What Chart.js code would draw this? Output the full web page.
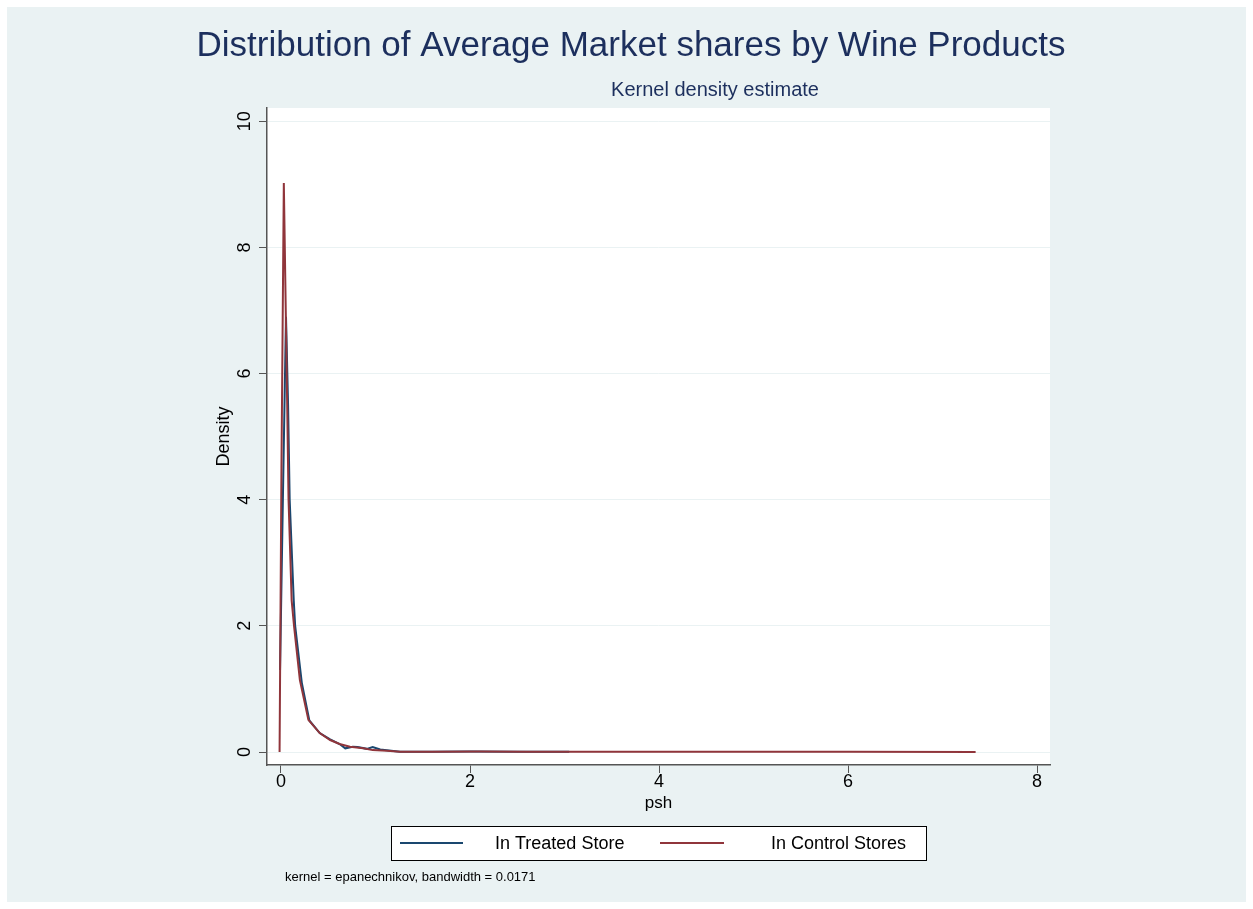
<!DOCTYPE html>
<html>
<head>
<meta charset="utf-8">
<title>Distribution of Average Market shares by Wine Products</title>
<script src="https://cdn.jsdelivr.net/npm/chart.js@4.4.1/dist/chart.umd.min.js"></script>
<style>
  html, body { margin: 0; padding: 0; background: #fff; }
  #wrap { width: 1253px; height: 909px; }
</style>
</head>
<body>
<div id="wrap"><canvas id="grafico" width="1253" height="909"></canvas></div>
<script>
// estimativas de densidade (psh x densidade)
const tratadaX = [-0.01, 0.02, 0.053, 0.075, 0.092, 0.135, 0.15, 0.22, 0.30, 0.41, 0.52, 0.62, 0.68, 0.76, 0.81, 0.91, 0.97, 1.05, 1.19, 1.26, 1.6, 2.0, 2.5, 3.05];
const tratadaY = [1.3, 4.0, 6.9, 5.5, 4.0, 2.4, 2.0, 1.1, 0.5, 0.3, 0.2, 0.127, 0.058, 0.084, 0.08, 0.05, 0.08, 0.04, 0.015, 0.003, 0.006, 0.008, 0.004, 0.004];

const controleX = [-0.015, 0.005, 0.03, 0.065, 0.08, 0.113, 0.138, 0.20, 0.29, 0.41, 0.52, 0.62, 0.73, 0.87, 0.97, 1.12, 1.26, 1.6, 2.1, 2.6, 3.2, 4.0, 5.0, 6.0, 7.35];
const controleY = [0, 4.5, 9.02, 5.58, 4.0, 2.4, 2.0, 1.14, 0.51, 0.30, 0.19, 0.127, 0.084, 0.058, 0.03, 0.02, 0.005, 0.006, 0.008, 0.004, 0.006, 0.003, 0.004, 0.003, 0.002];

const ticksX = [0, 2, 4, 6, 8];
const ticksY = [0, 2, 4, 6, 8, 10];

const titulo = "Distribution of Average Market shares by Wine Products";
const subtitulo = "Kernel density estimate";
const nota = "kernel = epanechnikov, bandwidth = 0.0171";

const azul = "#1a476f";
const vinho = "#90353b";
const fundoCinza = "#eaf2f3";
const corTitulo = "#1c2f5d";
const fonte = "'Liberation Sans', Arial, Helvetica, sans-serif";

function pares(xs, ys) {
  return xs.map((x, i) => ({ x: x, y: ys[i] }));
}

// fundo, titulos, legenda e nota
const molduraPlugin = {
  id: "moldura",
  beforeDraw(chart) {
    const { ctx, chartArea } = chart;
    ctx.save();
    ctx.fillStyle = "#fff";
    ctx.fillRect(0, 0, chart.width, chart.height);
    ctx.fillStyle = fundoCinza;
    ctx.fillRect(7, 7, chart.width - 14, chart.height - 14);
    ctx.fillStyle = "#fff";
    ctx.fillRect(chartArea.left, chartArea.top, chartArea.right - chartArea.left, chartArea.bottom - chartArea.top);
    ctx.restore();
  },
  afterDraw(chart) {
    const ctx = chart.ctx;
    ctx.save();
    ctx.textBaseline = "middle";

    ctx.fillStyle = corTitulo;
    ctx.textAlign = "center";
    ctx.font = "35px " + fonte;
    ctx.fillText(titulo, 631, 46);
    ctx.font = "20px " + fonte;
    ctx.fillText(subtitulo, 715, 90);

    // caixa da legenda
    ctx.fillStyle = "#fff";
    ctx.fillRect(391, 826, 535, 34);
    ctx.strokeStyle = "#000";
    ctx.lineWidth = 1;
    ctx.strokeRect(391.5, 826.5, 535, 34);

    const itens = [
      { x1: 400, x2: 463, tx: 495 },
      { x1: 660, x2: 724, tx: 771 },
    ];
    chart.data.datasets.forEach((ds, i) => {
      const it = itens[i];
      ctx.strokeStyle = ds.borderColor;
      ctx.lineWidth = 2;
      ctx.beginPath();
      ctx.moveTo(it.x1, 843);
      ctx.lineTo(it.x2, 843);
      ctx.stroke();
      ctx.fillStyle = "#000";
      ctx.textAlign = "left";
      ctx.font = "18px " + fonte;
      ctx.fillText(ds.label, it.tx, 844);
    });

    ctx.font = "13px " + fonte;
    ctx.fillStyle = "#000";
    ctx.textAlign = "left";
    ctx.fillText(nota, 285, 877);
    ctx.restore();
  },
};

Chart.defaults.font.family = fonte;
Chart.defaults.color = "#000";

new Chart(document.getElementById("grafico").getContext("2d"), {
  type: "scatter",
  data: {
    datasets: [
      {
        label: "In Treated Store",
        data: pares(tratadaX, tratadaY),
        borderColor: azul,
        backgroundColor: azul,
        order: 1,
      },
      {
        label: "In Control Stores",
        data: pares(controleX, controleY),
        borderColor: vinho,
        backgroundColor: vinho,
        order: 0,
      },
    ],
  },
  options: {
    responsive: false,
    devicePixelRatio: 1,
    animation: false,
    showLine: true,
    elements: {
      point: { radius: 0 },
      line: { borderWidth: 2, tension: 0 },
    },
    layout: { padding: { left: 210, top: 108, right: 203, bottom: 95 } },
    plugins: {
      legend: { display: false },
      tooltip: { enabled: false },
    },
    scales: {
      x: {
        type: "linear",
        min: -0.148,
        max: 8.137,
        afterBuildTicks: (s) => { s.ticks = ticksX.map((v) => ({ value: v })); },
        afterFit: (s) => { s.height = 49; },
        ticks: { maxRotation: 0, padding: -2, font: { size: 18 }, color: "#000" },
        grid: { drawOnChartArea: false, tickColor: "#555", tickLength: 8 },
        border: { color: "#555", width: 1.5 },
        title: { display: true, text: "psh", font: { size: 17 }, color: "#000", padding: { top: 0, bottom: 0 } },
      },
      y: {
        type: "linear",
        min: -0.206,
        max: 10.21,
        afterBuildTicks: (s) => { s.ticks = ticksY.map((v) => ({ value: v })); },
        afterFit: (s) => { s.width = 57; },
        ticks: { minRotation: 90, maxRotation: 90, crossAlign: "center", padding: 4, font: { size: 18 }, color: "#000" },
        grid: { color: fundoCinza, tickColor: "#555", tickLength: 8 },
        border: { color: "#555", width: 1.5 },
        title: { display: true, text: "Density", font: { size: 18 }, color: "#000", padding: { top: 3, bottom: 0 } },
      },
    },
  },
  plugins: [molduraPlugin],
});
</script>
</body>
</html>
